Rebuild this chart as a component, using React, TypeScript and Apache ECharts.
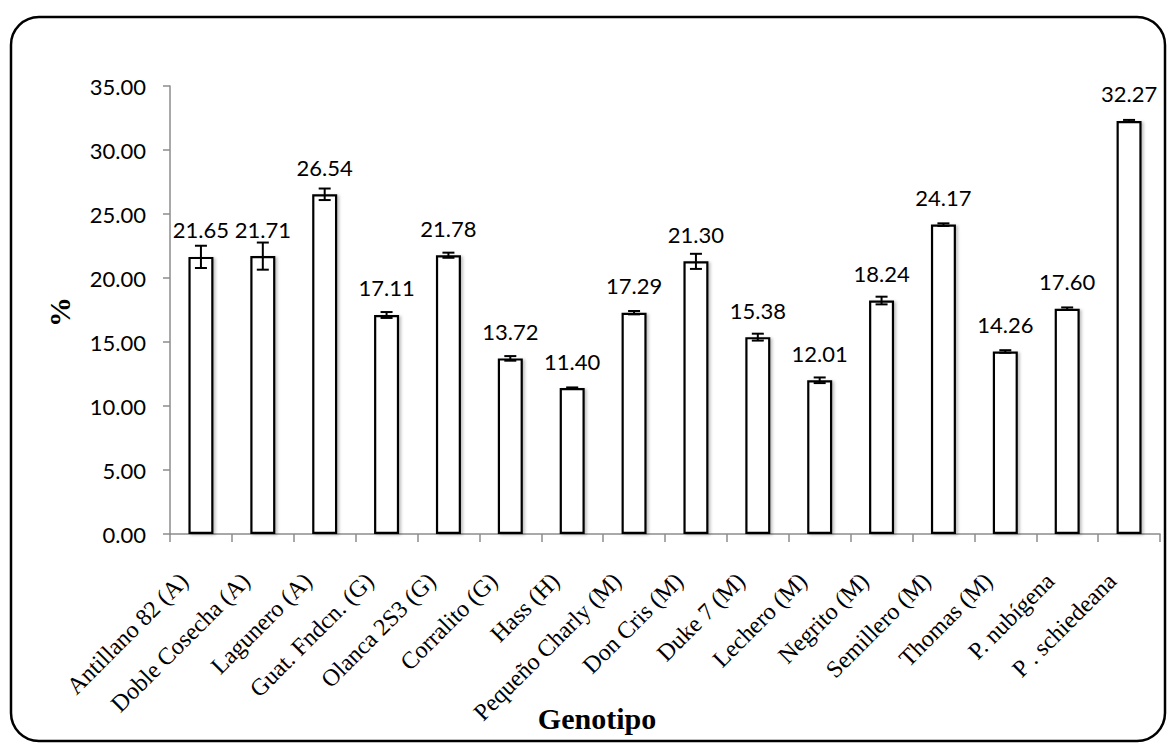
import React, { useEffect, useRef } from "react";
import * as echarts from "echarts";

const categories = [
  "Antillano 82 (A)",
  "Doble Cosecha (A)",
  "Lagunero (A)",
  "Guat. Fndcn. (G)",
  "Olanca 2S3 (G)",
  "Corralito (G)",
  "Hass (H)",
  "Pequeño Charly (M)",
  "Don Cris (M)",
  "Duke 7 (M)",
  "Lechero (M)",
  "Negrito (M)",
  "Semillero (M)",
  "Thomas (M)",
  "P. nubígena",
  "P . schiedeana",
];
const values = [21.65, 21.71, 26.54, 17.11, 21.78, 13.72, 11.4, 17.29, 21.3, 15.38, 12.01, 18.24, 24.17, 14.26, 17.6, 32.27];
const errors = [0.87, 1.06, 0.45, 0.23, 0.2, 0.18, 0.05, 0.13, 0.59, 0.27, 0.22, 0.3, 0.1, 0.1, 0.1, 0.08];
const yTicks = { min: 0, max: 35, interval: 5 };
const xTitle = "Genotipo";
const yTitle = "%";

export default function App() {
  const ref = useRef<HTMLDivElement>(null);
  useEffect(() => {
    if (!ref.current) return;
    const chart = echarts.init(ref.current, null, { renderer: "svg" });
    const errData = values.map((v, i) => [i, v - errors[i], v + errors[i]]);
    chart.setOption({
      animation: false,
      backgroundColor: "#ffffff",
      grid: { left: 170, right: 16, top: 86, bottom: 214, containLabel: false },
      xAxis: {
        type: "category",
        data: categories,
        axisLine: { lineStyle: { color: "#8c8c8c", width: 1.5 } },
        axisTick: { show: true, length: 8, lineStyle: { color: "#8c8c8c", width: 1.5 } },
        axisLabel: {
          rotate: 45,
          interval: 0,
          margin: 26,
          padding: [0, 24, 0, 0],
          color: "#000",
          fontFamily: "Liberation Serif",
          fontSize: 24,
        },
      },
      yAxis: {
        type: "value",
        min: yTicks.min,
        max: yTicks.max,
        interval: yTicks.interval,
        splitLine: { show: false },
        axisLine: { show: true, lineStyle: { color: "#8c8c8c", width: 1.5 } },
        axisTick: { show: true, length: 7, lineStyle: { color: "#8c8c8c", width: 1.5 } },
        axisLabel: {
          margin: 24,
          color: "#000",
          fontFamily: "Lato",
          fontSize: 22,
          formatter: (v: number) => v.toFixed(2),
        },
      },
      series: [
        {
          type: "bar",
          data: values,
          barWidth: 25,
          itemStyle: {
            color: "#ffffff",
            borderColor: "#000",
            borderWidth: 2.2,
            shadowColor: "rgba(0,0,0,0.25)",
            shadowBlur: 3,
            shadowOffsetX: 2,
            shadowOffsetY: 1,
          },
          label: {
            show: true,
            position: "top",
            distance: 16,
            color: "#000",
            fontFamily: "Lato",
            fontSize: 22,
            formatter: (p: any) => Number(p.value).toFixed(2),
          },
          z: 2,
        },
        {
          type: "custom",
          data: errData,
          z: 3,
          renderItem: (params: any, api: any) => {
            const x = api.value(0);
            const lo = api.coord([x, api.value(1)]);
            const hi = api.coord([x, api.value(2)]);
            const hw = 6;
            const style = { stroke: "#000", lineWidth: 2 };
            return {
              type: "group",
              children: [
                { type: "line", shape: { x1: lo[0], y1: lo[1], x2: hi[0], y2: hi[1] }, style },
                { type: "line", shape: { x1: lo[0] - hw, y1: lo[1], x2: lo[0] + hw, y2: lo[1] }, style },
                { type: "line", shape: { x1: hi[0] - hw, y1: hi[1], x2: hi[0] + hw, y2: hi[1] }, style },
              ],
            };
          },
        },
      ],
      graphic: [
        {
          type: "rect",
          shape: { x: 11, y: 17, width: 1154, height: 724, r: 28 },
          style: { fill: "none", stroke: "#000", lineWidth: 2.5 },
          silent: true,
        },
        {
          type: "text",
          x: 59,
          y: 312,
          rotation: Math.PI / 2,
          style: {
            text: yTitle,
            font: "bold 30px 'Liberation Serif'",
            fill: "#000",
            align: "center",
            verticalAlign: "middle",
          },
        },
        {
          type: "text",
          x: 597,
          y: 718,
          style: {
            text: xTitle,
            font: "bold 30px 'Liberation Serif'",
            fill: "#000",
            align: "center",
            verticalAlign: "middle",
          },
        },
      ],
    });
    return () => chart.dispose();
  }, []);
  return (
    <div
      ref={ref}
      style={{ position: "fixed", left: 0, top: 0, width: 1176, height: 748 }}
    />
  );
}
